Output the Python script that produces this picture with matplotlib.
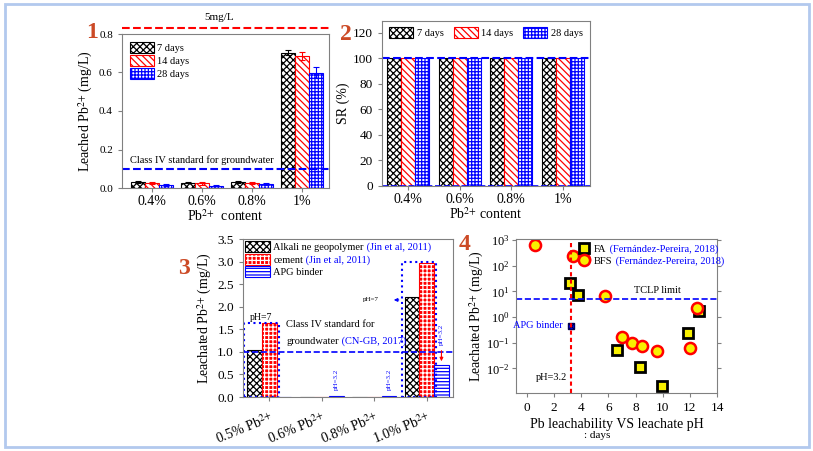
import numpy as np
import matplotlib
matplotlib.use('Agg')
import matplotlib.pyplot as plt
from matplotlib.patches import Patch, Rectangle
from matplotlib.legend_handler import HandlerTuple

plt.rcParams['font.family'] = ['Liberation Serif', 'DejaVu Serif']
plt.rcParams['mathtext.fontset'] = 'stix'
plt.rcParams['hatch.linewidth'] = 0.9
plt.rcParams['axes.edgecolor'] = '#808080'
plt.rcParams['xtick.color'] = '#808080'
plt.rcParams['ytick.color'] = '#808080'
plt.rcParams['xtick.labelcolor'] = 'black'
plt.rcParams['ytick.labelcolor'] = 'black'

# ---- panel 1 : leached Pb vs content, 3 curing ages
contents = ['0.4%', '0.6%', '0.8%', '1%']
ages = ['7 days', '14 days', '28 days']
leach_7 = [0.033, 0.028, 0.030, 0.703]
leach_14 = [0.025, 0.024, 0.027, 0.687]
leach_28 = [0.015, 0.012, 0.020, 0.600]
err_7 = [0.005, 0.004, 0.004, 0.014]
err_14 = [0.006, 0.006, 0.005, 0.020]
err_28 = [0.004, 0.004, 0.006, 0.030]
groundwater_limit = 0.1

# ---- panel 2 : solidification rate
sr_7 = [100, 100, 100, 100]
sr_14 = [100, 100, 100, 100]
sr_28 = [100, 100, 100, 100]

# ---- panel 3 : comparison with literature
PB = 'Pb$^{2{+}}$'
cmp_labels = ['0.5% ' + PB, '0.6% ' + PB, '0.8% ' + PB, '1.0% ' + PB]
alkali_vals = [1.05, 0.0, 0.0, 2.21]
cement_vals = [1.63, 0.0, 0.0, 2.97]
apg_vals = [0.0, 0.03, 0.03, 0.71]
cn_gb_limit = 1.0

# ---- panel 4 : Pb leachability vs leachate pH
fa_ph = [3.2, 3.75, 6.6, 8.3, 9.95, 11.85, 12.65]
fa_pb = [21, 7.3, 0.05, 0.0115, 0.0021, 0.24, 1.8]
bfs_ph = [0.6, 3.4, 4.2, 5.75, 7.0, 7.75, 8.5, 9.6, 12.0, 12.5]
bfs_pb = [640, 240, 180, 6.7, 0.16, 0.095, 0.077, 0.048, 0.06, 2.3]
apg_ph = [3.25]
apg_pb = [0.45]
tclp_limit = 5
leachate_ph = 3.25

W, H = 813, 451
fig = plt.figure(figsize=(W / 100, H / 100), dpi=100)


def put_axes(l, t, r, b):
    return fig.add_axes([l / W, 1 - b / H, (r - l) / W, (b - t) / H])


num_color = '#cc4a26'
age_styles = [('black', 'xxxxx'), ('red', '\\' * 5), ('blue', '+++++')]

# ================= panel 1
ax1 = put_axes(122, 34, 329, 188)
x = np.arange(len(contents))
w = 0.28
for k, (vals, errs, lab) in enumerate(zip([leach_7, leach_14, leach_28],
                                          [err_7, err_14, err_28], ages)):
    col, hat = age_styles[k]
    ax1.bar(x + (k - 1) * w, vals, w, facecolor='white', edgecolor=col,
            hatch=hat, lw=0.8, label=lab, yerr=errs,
            error_kw=dict(ecolor=col, capsize=2, elinewidth=0.8, capthick=0.8))
ax1.axhline(groundwater_limit, color='blue', ls='--', lw=1.5)
ax1.text(0.04, 0.145, 'Class IV standard for groundwater', fontsize=7.5,
         transform=ax1.get_yaxis_transform(), va='center')
ax1.axhline(0.831, color='red', ls='--', lw=1.5, clip_on=False)
ax1.text(0.47, 0.888, '5mg/L', fontsize=8, ha='center', va='center',
         transform=ax1.get_yaxis_transform())
ax1.set_xlim(-0.6, 3.55)
ax1.set_ylim(0, 0.8)
ax1.set_yticks(np.arange(0, 0.81, 0.2))
ax1.set_xticks(x)
ax1.set_xticklabels(contents, fontsize=10)
ax1.tick_params(axis='y', labelsize=8, length=3)
ax1.tick_params(axis='x', length=3, pad=2)
ax1.set_ylabel('Leached ' + PB + ' (mg/L)', fontsize=10, labelpad=3)
ax1.set_xlabel(PB + '  content', fontsize=10, labelpad=0)
ax1.legend(loc='upper left', fontsize=7.5, frameon=False, handlelength=2.3,
           handleheight=1.2, labelspacing=0.2, handletextpad=0.3,
           borderaxespad=0.4)

# ================= panel 2
ax2 = put_axes(382, 21, 590, 186)
w2 = 0.27
for k, (vals, lab) in enumerate(zip([sr_7, sr_14, sr_28], ages)):
    col, hat = age_styles[k]
    ax2.bar(x + (k - 1) * w2, vals, w2, facecolor='white', edgecolor=col,
            hatch=hat, lw=0.8, label=lab)
ax2.axhline(100, color='blue', ls='--', lw=1.5)
ax2.axhline(0, color='blue', ls='--', lw=1.2)
ax2.set_xlim(-0.5, 3.52)
ax2.set_ylim(0, 129)
ax2.set_yticks(np.arange(0, 121, 20))
ax2.set_xticks(x)
ax2.set_xticklabels(contents, fontsize=10)
ax2.tick_params(axis='y', labelsize=9.5, length=3)
ax2.tick_params(axis='x', length=3, pad=2)
ax2.set_ylabel('SR (%)', fontsize=10, labelpad=2)
ax2.set_xlabel(PB + ' content', fontsize=10, labelpad=0)
ax2.legend(loc='upper center', ncol=3, fontsize=7.5, frameon=False,
           handlelength=2.3, handleheight=1.2, handletextpad=0.3,
           columnspacing=1.0, borderaxespad=0.2)

# ================= panel 3
ax3 = put_axes(243, 239, 453, 397)
w3 = 0.28
ax3.bar(x - w3, alkali_vals, w3, facecolor='white', edgecolor='black',
        hatch='xxxxx', lw=0.8)
ax3.bar(x, cement_vals, w3, facecolor='red', edgecolor='white',
        hatch='++++', lw=0)
ax3.bar(x, cement_vals, w3, fill=False, edgecolor='red', lw=0.8)
ax3.bar(x + w3, apg_vals, w3, facecolor='white', edgecolor='blue',
        hatch='-----', lw=0.8)
ax3.axhline(cn_gb_limit, color='blue', ls='--', lw=1.2)
for i in (0, 3):
    top = max(alkali_vals[i], cement_vals[i]) + 0.02
    ax3.add_patch(Rectangle((i - 1.5 * w3 - 0.06, 0), 2 * w3 + 0.1, top,
                            fill=False, edgecolor='blue', ls=':', lw=1.5))
ax3.text(-0.16, 1.77, 'pH=7', fontsize=7, ha='center', va='center')
ax3.annotate('pH=7', xy=(2.26, 2.15), xytext=(1.94, 2.15), fontsize=5,
             ha='center', va='center')
ax3.annotate('', xy=(2.32, 2.15), xytext=(2.52, 2.15),
             arrowprops=dict(arrowstyle='-|>', color='blue', lw=0.8,
                             mutation_scale=5))
for i in (1, 2):
    ax3.text(i + w3, apg_vals[i] + 0.12, 'pH=3.2', rotation=90, fontsize=5,
             color='blue', ha='center', va='bottom')
ax3.annotate('pH=3.2', xy=(3 + w3, apg_vals[3] + 0.02),
             xytext=(3 + w3, 1.15), rotation=90, fontsize=5, color='blue',
             ha='center', va='bottom',
             arrowprops=dict(arrowstyle='-|>', color='red', lw=0.8,
                             mutation_scale=5))
ax3.text(0.205, 1.6, 'Class IV standard for', fontsize=7.5,
         transform=ax3.get_yaxis_transform(), va='center')
gw = ax3.text(0.205, 1.22, 'groundwater', fontsize=7.5,
              transform=ax3.get_yaxis_transform(), va='center')
ax3.annotate(' (CN-GB, 2017)', xy=(1, 0), xycoords=gw, va='bottom',
             fontsize=7.5, color='blue', zorder=10)
ax3.set_xlim(-0.5, 3.5)
ax3.set_ylim(0, 3.5)
ax3.set_yticks(np.arange(0, 3.51, 0.5))
ax3.set_xticks(x)
ax3.set_xticklabels(cmp_labels, fontsize=10, rotation=22, ha='right',
                    rotation_mode='anchor')
ax3.tick_params(axis='y', labelsize=9.5, length=3)
ax3.tick_params(axis='x', length=3, pad=6)
ax3.set_ylabel('Leachated ' + PB + ' (mg/L)', fontsize=10, labelpad=2)
h_alk = Patch(facecolor='white', edgecolor='black', hatch='xxxxx', lw=0.8)
h_cem = (Patch(facecolor='red', edgecolor='white', hatch='++++', lw=0),
         Patch(fill=False, edgecolor='red', lw=0.8))
h_apg = Patch(facecolor='white', edgecolor='blue', hatch='-----', lw=0.8)
leg3 = ax3.legend([h_alk, h_cem, h_apg],
                  ['Alkali ne geopolymer', 'cement', 'APG binder'],
                  handler_map={tuple: HandlerTuple(ndivide=1)},
                  loc='upper left', fontsize=7.5, frameon=False,
                  handlelength=2.4, handleheight=1.25, labelspacing=0.15,
                  handletextpad=0.3, borderaxespad=0.1, borderpad=0.1)

# ================= panel 4
ax4 = put_axes(516, 239, 717, 393)
ax4.set_yscale('log')
ax4.plot(fa_ph, fa_pb, ls='none', marker='s', ms=6.5, mfc='#f8f000',
         mec='black', mew=2, label='FA')
ax4.plot(bfs_ph, bfs_pb, ls='none', marker='o', ms=8, mfc='#f8f000',
         mec='red', mew=1.8, label='BFS')
ax4.plot(apg_ph, apg_pb, ls='none', marker='s', ms=5, mfc='blue',
         mec='#000060', mew=1)
ax4.plot(apg_ph, apg_pb, ls='none', marker='x', ms=4, mec='#000040', mew=0.8)
ax4.annotate('APG binder', xy=(apg_ph[0], apg_pb[0]), xytext=(-6, 0),
             textcoords='offset points', ha='right', va='center',
             fontsize=7.5, color='blue')
ax4.axhline(tclp_limit, color='blue', ls='--', lw=1.2)
ax4.text(9.6, tclp_limit * 1.5, 'TCLP limit', fontsize=7.5, ha='center',
         va='bottom')
ax4.axvline(leachate_ph, color='red', ls=(0, (2, 1.5)), lw=1.5)
ax4.text(leachate_ph - 0.3, 0.0045, 'pH=3.2', fontsize=7.5, ha='right',
         va='center')
ax4.set_xlim(-0.8, 14)
ax4.set_ylim(1.1e-3, 1.1e3)
ax4.set_xticks(np.arange(0, 15, 2))
ax4.set_yticks([1e-2, 1e-1, 1e0, 1e1, 1e2, 1e3])
ax4.minorticks_off()
ax4.tick_params(axis='both', labelsize=9.5, length=3)
ax4.tick_params(axis='y', right=True, labelsize=9, pad=1.5)
ax4.set_ylabel('Leachated ' + PB + ' (mg/L)', fontsize=10, labelpad=0)
ax4.set_xlabel('Pb leachability VS leachate pH', fontsize=10, labelpad=3)
leg4 = ax4.legend(loc='upper left', bbox_to_anchor=(0.27, 1.01),
                  fontsize=7.5, frameon=False, handlelength=1.2,
                  labelspacing=0.25, handletextpad=0.4, borderpad=0.2)
fig.text(597 / W, 1 - 436 / H, ': days', fontsize=8, ha='center',
         va='center')

# blue citation parts appended after the legend labels (needs final layout)
fig.canvas.draw()
for t, cite in zip(leg3.get_texts()[:2], [' (Jin et al, 2011)'] * 2):
    bb = t.get_window_extent()
    fig.text(bb.x1 / W, bb.y0 / H, cite, fontsize=7.5, color='blue',
             va='bottom')
for t in leg4.get_texts():
    bb = t.get_window_extent()
    fig.text(bb.x1 / W, bb.y0 / H, ' (Fernández-Pereira, 2018)',
             fontsize=7.5, color='blue', va='bottom')

# panel numbers
for n, (px, py) in zip(['1', '2', '3', '4'],
                       [(92, 32), (346, 34), (184, 268), (465, 244)]):
    fig.text(px / W, 1 - py / H, n, fontsize=17, fontweight='bold',
             color=num_color, ha='center', va='center')

# outer frame
fig.patches.append(Rectangle((4.5 / W, 4 / H), 804.5 / W, 443 / H,
                             transform=fig.transFigure, fill=False,
                             edgecolor='#b2c9ee', lw=2))

fig.savefig('out.png', dpi=100)
